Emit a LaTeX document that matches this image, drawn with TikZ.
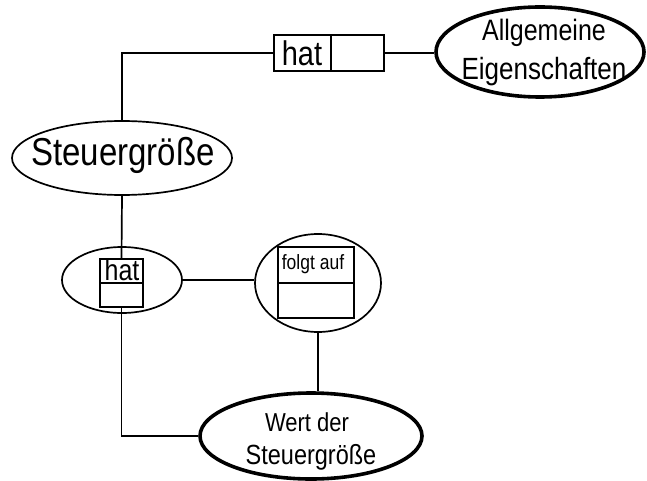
\documentclass[tikz,border=0pt]{standalone}
\usepackage{fontspec}
\setmainfont{Liberation Sans}
\usetikzlibrary{shapes.geometric}
\tikzset{
  ell/.style={ellipse, draw, line width=1.7pt, inner sep=0pt, align=center},
  thickell/.style={ell, line width=3.6pt},
  cell/.style={rectangle, draw, line width=1.7pt, inner sep=0pt},
  lbl/.style={inner sep=0pt},
  conn/.style={line width=1.7pt}
}
\newcommand{\fs}[2]{\scalebox{1}[1.18]{\fontsize{#1}{#1}\selectfont #2}}
\begin{document}
\begin{tikzpicture}[x=1pt,y=-1pt]
\useasboundingbox (0,0) rectangle (647,481);
% ellipses
\node[thickell, minimum width=208pt, minimum height=90pt] (allg) at (540,52) {};
\node[lbl] (allgA) at (544,33) {\fs{25}{Allgemeine}};
\node[lbl] (allgB) at (544,72) {\fs{26}{Eigenschaften}};
\node[ell, minimum width=220pt, minimum height=74pt] (steuer) at (122,158) {};
\node[lbl] (steuerT) at (123,155) {\fs{33}{Steuergröße}};
\node[ell, minimum width=120pt, minimum height=66pt] (hatell) at (122,280) {};
\node[ell, minimum width=126pt, minimum height=98pt] (folgt) at (318,283) {};
\node[thickell, minimum width=222pt, minimum height=86pt] (wert) at (311,436) {};
\node[lbl] (wertA) at (307,422) {\fs{22}{Wert der}};
\node[lbl] (wertB) at (311,457) {\fs{23.5}{Steuergröße}};
% boxes
\node[cell, minimum width=57pt, minimum height=36pt] (boxA) at (302.5,53) {};
\node[cell, minimum width=53pt, minimum height=36pt] (boxB) at (357.5,53) {};
\node[lbl] (boxT) at (302,53) {\fs{29}{hat}};
\node[cell, minimum width=43pt, minimum height=24pt] (hatA) at (121.5,271) {};
\node[cell, minimum width=43pt, minimum height=24pt] (hatB) at (121.5,295) {};
\node[lbl] (hatT) at (122,270) {\fs{25}{hat}};
\node[cell, minimum width=76pt, minimum height=36pt] (folgtA) at (316,265) {};
\node[cell, minimum width=76pt, minimum height=35pt] (folgtB) at (316,300.5) {};
\node[lbl] (folgtT) at (313,264) {\fs{17.5}{folgt auf}};
% connectors
\draw[conn] (boxA.west) -| (steuer.north);
\draw[conn] (boxB.east) -- (boxB.east -| allg.west);
\draw[conn] (steuer.south) -- (hatA.north);
\draw[conn] (hatB.south) |- (wert.west);
\draw[conn] (hatell.east) -- (hatell.east -| folgt.west);
\draw[conn] (folgt.south) -- (folgt.south |- wert.north);
\end{tikzpicture}
\end{document}
